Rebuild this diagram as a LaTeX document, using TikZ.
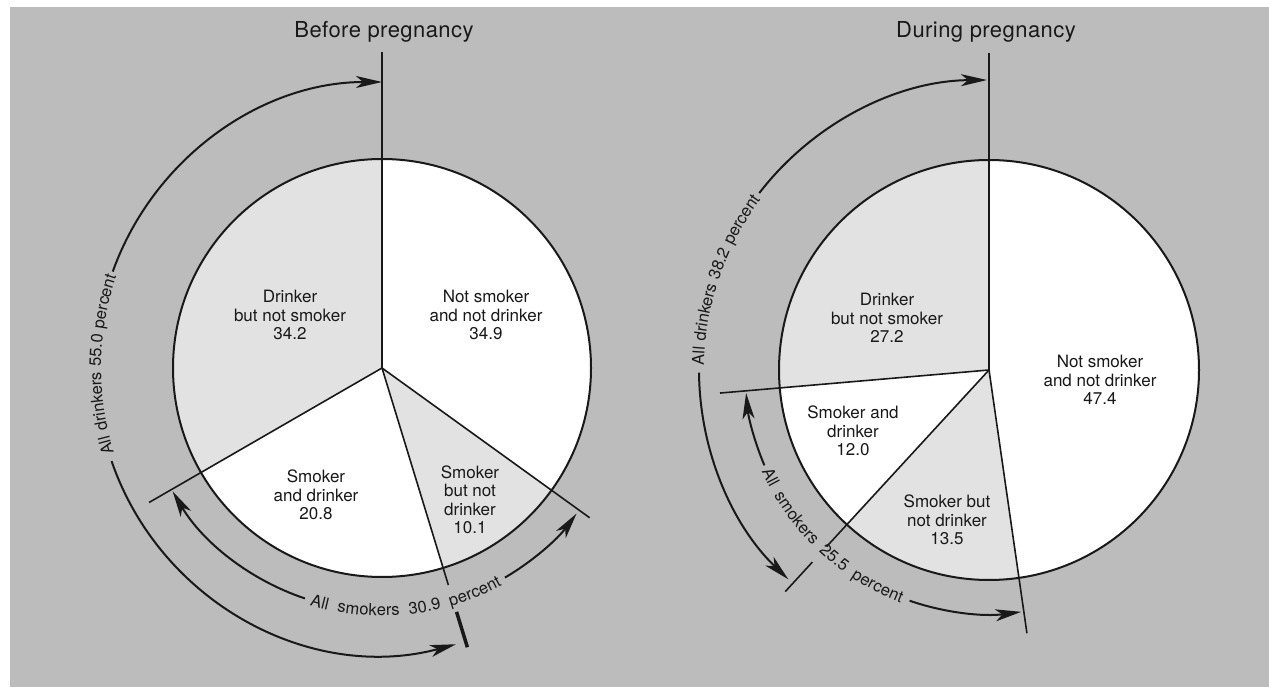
\documentclass[tikz,border=0pt]{standalone}
\usepackage{fontspec}
\setmainfont{TeX Gyre Heros}
\newfontfamily\titlefont[LetterSpace=2]{TeX Gyre Heros}
\usetikzlibrary{arrows.meta,decorations.text}
\definecolor{bggrey}{RGB}{188,188,188}
\definecolor{slicegrey}{RGB}{226,226,226}
\definecolor{ink}{RGB}{25,25,25}
% sector of a pie: (centre)(from:to:radius)
\def\sector[#1](#2)(#3:#4:#5){\fill[#1] (#2) -- ([shift={(#3:#5)}]#2) arc[start angle=#3, end angle=#4, radius=#5] -- cycle;}
% arc round a centre: (centre)(from:to:radius)
\def\ringarc[#1](#2)(#3:#4:#5){\draw[#1] ([shift={(#3:#5)}]#2) arc[start angle=#3, end angle=#4, radius=#5];}
% words set along an arc round a centre
\def\ringtext#1(#2)(#3:#4:#5){\path[decorate, decoration={text along path, text={|\fontsize{16.5}{18}\selectfont\color{ink}|#1}, text align=fit to path stretching spaces, raise=-5pt}] ([shift={(#3:#5)}]#2) arc[start angle=#3, end angle=#4, radius=#5];}

\begin{document}
\begin{tikzpicture}[x=1pt,y=1pt,
  rim/.style={draw=ink, line width=2pt},
  spoke/.style={draw=ink, line width=1.6pt},
  arrowarc/.style={draw=ink, line width=2pt, -{Stealth[length=26pt,width=12pt,inset=7pt]}},
  slicelabel/.style={align=center, font=\fontsize{17}{18.5}\selectfont, text=ink, inner sep=0pt},
  titlelabel/.style={font=\titlefont\fontsize{22}{24}\selectfont, text=ink, inner sep=0pt}]
  %%%%% PAGE %%%%%
  \useasboundingbox (0,0) rectangle (1269,689);
  \fill[white] (0,0) rectangle (1269,689);
  \fill[bggrey] (10,2) rectangle (1269,682);

  \coordinate (bc) at (382,321);
  \coordinate (dc) at (989,319);

  %%%%% BEFORE PREGNANCY %%%%%
  \node[titlelabel] (btitle) at (384,657) {Before pregnancy};

  \sector[white](bc)(90:-35.8:209)
  \sector[slicegrey](bc)(-35.8:-73:209)
  \sector[white](bc)(-73:-150:209)
  \sector[slicegrey](bc)(-150:-270:209)
  \draw[rim] (bc) circle (209);

  \foreach \a/\r/\n in {90/316/ba, -35.8/256/bb, -73/227/bm, -150/269/bs}
    \coordinate (\n) at ([shift={(\a:\r)}]bc);
  \foreach \n in {ba,bb,bm,bs}
    \draw[spoke] (bc) -- (\n);
  \coordinate (bt1) at ([shift={(-73:255)}]bc);
  \coordinate (bt2) at ([shift={(-73:292)}]bc);
  \draw[spoke, line width=3.5pt] (bt1) -- (bt2);

  % all drinkers
  \ringarc[arrowarc](bc)(160.3:90:286)
  \ringarc[arrowarc](bc)(199:285:286)
  \ringtext{All drinkers 55.0 percent}(bc)(197.5:161:286)
  % all smokers
  \ringarc[arrowarc](bc)(-108.5:-149.5:243)
  \ringarc[arrowarc](bc)(-59.6:-36.8:243)
  \ringtext{All smokers 30.9 percent}(bc)(-107:-61:243)

  \node[slicelabel] (bdn) at (290,374) {Drinker\\but not smoker\\34.2};
  \node[slicelabel] (bnn) at (486,374) {Not smoker\\and not drinker\\34.9};
  \node[slicelabel] (bsd) at (316,194) {Smoker\\and drinker\\20.8};
  \node[slicelabel] (bsn) at (470,189) {Smoker\\but not\\drinker\\10.1};

  %%%%% DURING PREGNANCY %%%%%
  \node[titlelabel] (dtitle) at (986,657) {During pregnancy};

  \sector[white](dc)(90:-81.8:210)
  \sector[slicegrey](dc)(-81.8:-132.6:210)
  \sector[white](dc)(-132.6:-175.1:210)
  \sector[slicegrey](dc)(-175.1:-270:210)
  \draw[rim] (dc) circle (210);

  \foreach \a/\r/\n in {90/317/da, -81.8/266/db, -132.6/240/dm, -175.1/270/ds}
    \coordinate (\n) at ([shift={(\a:\r)}]dc);
  \foreach \n in {da,db,dm,ds}
    \draw[spoke] (dc) -- (\n);
  \coordinate (dt1) at ([shift={(-132.6:261)}]dc);
  \coordinate (dt2) at ([shift={(-132.6:301)}]dc);
  \draw[spoke] (dt1) -- (dt2);

  % all drinkers
  \ringarc[arrowarc](dc)(142.4:90.4:290)
  \ringarc[arrowarc](dc)(180.5:226.2:290)
  \ringtext{All drinkers 38.2 percent}(dc)(179:143.3:290)
  % all smokers
  \ringarc[arrowarc](dc)(-157:-174.6:244)
  \ringarc[arrowarc](dc)(-109:-82.4:244)
  \ringtext{All smokers 25.5 percent}(dc)(-156:-110.8:244)

  \node[slicelabel] (ddn) at (887,371) {Drinker\\but not smoker\\27.2};
  \node[slicelabel] (dnn) at (1100,309) {Not smoker\\and not drinker\\47.4};
  \node[slicelabel] (dsd) at (853,258) {Smoker and\\drinker\\12.0};
  \node[slicelabel] (dsn) at (947,169) {Smoker but\\not drinker\\13.5};
\end{tikzpicture}
\end{document}
